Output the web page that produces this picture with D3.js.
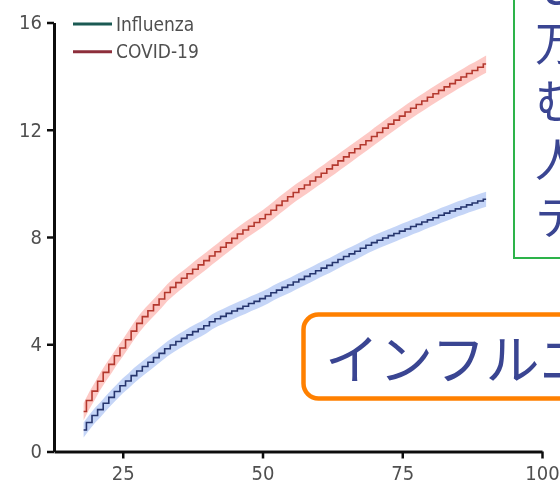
<!DOCTYPE html>
<html>
<head>
<meta charset="utf-8">
<script src="https://cdn.jsdelivr.net/npm/d3@7"></script>
<style>
  html, body { margin: 0; padding: 0; background: #fff; overflow: hidden; }
  svg { display: block; }
  .tick text, .legend text {
    font-family: 'Liberation Sans Narrow', 'DejaVu Sans Condensed', 'DejaVu Sans', sans-serif;
    font-stretch: condensed;
    fill: #505050;
  }
  .note text { font-family: 'Noto Sans CJK JP', sans-serif; fill: #3a4592; }
</style>
</head>
<body>
<script>
// Cumulative incidence by age, one value per year of age (18–90)
const ages = d3.range(18, 91);

const influenza = [
  0.80, 1.08, 1.34, 1.56, 1.80, 2.02, 2.24, 2.45, 2.63, 2.83,
  3.00, 3.17, 3.33, 3.50, 3.66, 3.83, 3.97, 4.10, 4.22, 4.35,
  4.47, 4.57, 4.69, 4.84, 4.95, 5.04, 5.15, 5.24, 5.33, 5.42,
  5.52, 5.60, 5.70, 5.80, 5.92, 6.02, 6.12, 6.21, 6.32, 6.42,
  6.53, 6.63, 6.74, 6.84, 6.94, 7.05, 7.16, 7.27, 7.37, 7.47,
  7.58, 7.69, 7.79, 7.88, 7.96, 8.05, 8.13, 8.22, 8.30, 8.39,
  8.47, 8.56, 8.64, 8.72, 8.81, 8.89, 8.97, 9.05, 9.12, 9.20,
  9.27, 9.34, 9.41
];

const covid = [
  1.49, 1.90, 2.25, 2.62, 2.95, 3.25, 3.57, 3.86, 4.17, 4.49,
  4.78, 5.03, 5.25, 5.47, 5.69, 5.93, 6.12, 6.30, 6.46, 6.63,
  6.80, 6.96, 7.12, 7.29, 7.45, 7.62, 7.78, 7.95, 8.11, 8.26,
  8.40, 8.54, 8.68, 8.84, 9.00, 9.18, 9.34, 9.50, 9.66, 9.80,
  9.94, 10.09, 10.24, 10.38, 10.54, 10.68, 10.84, 10.99, 11.14, 11.29,
  11.44, 11.59, 11.75, 11.90, 12.06, 12.21, 12.36, 12.51, 12.66, 12.80,
  12.94, 13.07, 13.21, 13.34, 13.47, 13.60, 13.72, 13.85, 13.97, 14.10,
  14.21, 14.33, 14.45
];

// Half-width of the confidence band for each series
const influenzaBand = 0.28;
const covidBand = 0.32;

const seriesNames = ["Influenza", "COVID-19"];
const xTicks = [25, 50, 75, 100];
const yTicks = [0, 4, 8, 12, 16];

// Annotation text boxes
const noteLines = ["し", "万人", "む", "人", "テ"];
const calloutText = "インフルエンザ";

const W = 560, H = 483;
const svg = d3.select("body").append("svg").attr("width", W).attr("height", H);

const x = d3.scaleLinear().domain([12.7, 100]).range([54, 542]);
const y = d3.scaleLinear().domain([0, 16]).range([451.5, 22.5]);

const defs = svg.append("defs");
defs.append("filter").attr("id", "soft")
  .append("feGaussianBlur").attr("stdDeviation", 0.45);

const chart = svg.append("g").attr("filter", "url(#soft)");

const series = [
  { name: seriesNames[0], values: influenza, band: influenzaBand,
    line: "#27366e", fill: "rgba(110,150,235,0.40)", legend: "#1d5a52" },
  { name: seriesNames[1], values: covid, band: covidBand,
    line: "#b4392f", fill: "rgba(250,120,110,0.40)", legend: "#8d2f3a" }
];

// Smooth band, stepped estimate line
const area = d3.area()
  .x(d => x(d.age)).y0(d => y(d.v - d.b)).y1(d => y(d.v + d.b));
const line = d3.line().curve(d3.curveStep)
  .x(d => x(d.age)).y(d => y(d.v));

series.forEach(s => {
  const pts = ages.map((a, i) => ({ age: a, v: s.values[i], b: s.band }));
  chart.append("path").attr("d", area(pts)).attr("fill", s.fill);
  chart.append("path").attr("d", line(pts))
    .attr("fill", "none").attr("stroke", s.line).attr("stroke-width", 1.6);
});

// Axes
const yAxis = chart.append("g").attr("transform", `translate(${x.range()[0]},0)`)
  .call(d3.axisLeft(y).tickValues(yTicks).tickSize(7).tickSizeOuter(0).tickPadding(5));
const xAxis = chart.append("g").attr("transform", `translate(0,${y(0)})`)
  .call(d3.axisBottom(x).tickValues(xTicks).tickSize(7).tickSizeOuter(0).tickPadding(3));

[yAxis, xAxis].forEach(ax => {
  ax.select(".domain").attr("stroke", "#111").attr("stroke-width", 3);
  ax.selectAll(".tick line").attr("stroke", "#111").attr("stroke-width", 2.5);
  ax.selectAll(".tick text").attr("font-size", 20);
});
xAxis.selectAll(".tick text").attr("dy", "0.9em");

// Legend
const legend = chart.append("g").attr("class", "legend");
series.forEach((s, i) => {
  const ly = 24 + i * 27.7;
  legend.append("line").attr("x1", 73).attr("x2", 112).attr("y1", ly).attr("y2", ly)
    .attr("stroke", s.legend).attr("stroke-width", 3);
  legend.append("text").attr("x", 116).attr("y", ly + 6.5)
    .attr("font-size", 19).text(s.name);
});

// Green note box (continues past the right edge)
const note = svg.append("g").attr("class", "note");
note.append("rect").attr("x", 514).attr("y", -10).attr("width", 80).attr("height", 268)
  .attr("fill", "#fff").attr("stroke", "#2db34a").attr("stroke-width", 2);
note.selectAll("text").data(noteLines).join("text")
  .attr("x", 535).attr("y", (d, i) => 2 + i * 58)
  .attr("font-size", 46).text(d => d);

// Orange callout box
const callout = svg.append("g").attr("class", "note");
callout.append("rect").attr("x", 303.5).attr("y", 314.5).attr("width", 320).attr("height", 84)
  .attr("rx", 15).attr("fill", "#fff").attr("stroke", "#ff8000").attr("stroke-width", 4.5);
callout.append("text").attr("x", 325).attr("y", 380)
  .attr("font-size", 54).text(calloutText);
</script>
</body>
</html>
